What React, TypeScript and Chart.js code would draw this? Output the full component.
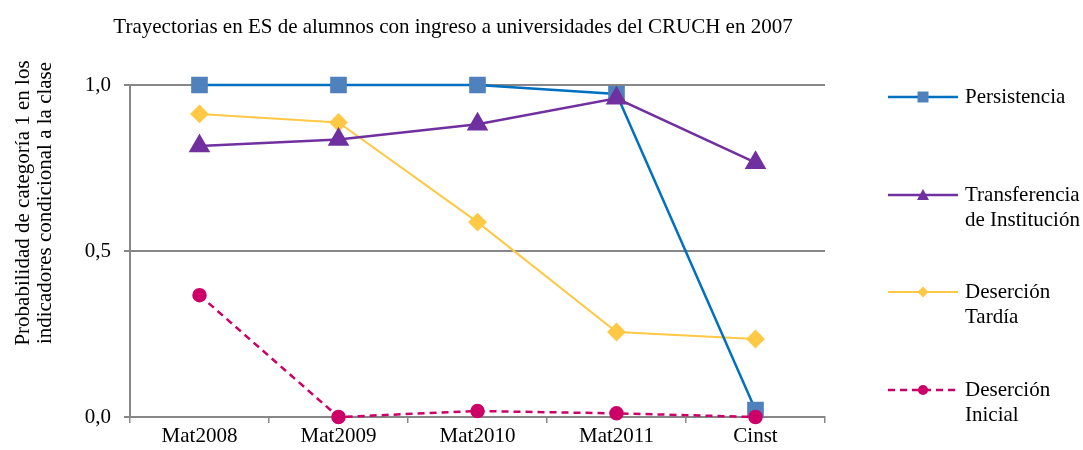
import React, { useEffect, useRef } from "react";
import { Chart, registerables } from "chart.js";

Chart.register(...registerables);

const chartTitle = "Trayectorias en ES de alumnos con ingreso a universidades del CRUCH en 2007";
const yAxisTitle = ["Probabilidad de categoría 1 en los", "indicadores condicional a la clase"];
const categories = ["Mat2008", "Mat2009", "Mat2010", "Mat2011", "Cinst"];
const yTicks = [0, 0.5, 1.0];

const persistencia = [1.0, 1.0, 1.0, 0.973, 0.021];
const transferencia = [0.816, 0.836, 0.882, 0.96, 0.766];
const desercionTardia = [0.913, 0.887, 0.587, 0.256, 0.235];
const desercionInicial = [0.367, 0.0, 0.018, 0.011, 0.0];

const legendPersistencia = ["Persistencia"];
const legendTransferencia = ["Transferencia", "de Institución"];
const legendTardia = ["Deserción", "Tardía"];
const legendInicial = ["Deserción", "Inicial"];

const FONT = "'Liberation Serif', 'Times New Roman', serif";

const overlayPlugin = {
  id: "overlay",
  afterDraw(chart: any) {
    const ctx = chart.ctx;
    ctx.save();
    // title
    ctx.fillStyle = "#000";
    ctx.font = `21px ${FONT}`;
    ctx.textAlign = "center";
    ctx.textBaseline = "middle";
    ctx.fillText(chartTitle, 453, 27);

    // y axis title
    ctx.save();
    ctx.translate(0, 203);
    ctx.rotate(-Math.PI / 2);
    ctx.font = `21px ${FONT}`;
    ctx.textAlign = "center";
    ctx.textBaseline = "middle";
    ctx.fillText(yAxisTitle[0], 0, 23);
    ctx.fillText(yAxisTitle[1], 0, 45);
    ctx.restore();

    // legend
    const items = [
      { ds: 0, text: legendPersistencia, y: 97 },
      { ds: 1, text: legendTransferencia, y: 195 },
      { ds: 2, text: legendTardia, y: 292 },
      { ds: 3, text: legendInicial, y: 390 },
    ];
    items.forEach((it) => {
      const ds = chart.data.datasets[it.ds];
      ctx.save();
      ctx.strokeStyle = ds.borderColor;
      ctx.lineWidth = ds.borderWidth;
      ctx.setLineDash(ds.borderDash || []);
      ctx.beginPath();
      ctx.moveTo(888, it.y);
      ctx.lineTo(958, it.y);
      ctx.stroke();
      ctx.setLineDash([]);
      ctx.fillStyle = ds.pointBackgroundColor;
      const cx = 923;
      const cy = it.y;
      ctx.beginPath();
      if (ds.pointStyle === "rect") {
        ctx.rect(cx - 5.5, cy - 5.5, 11, 11);
      } else if (ds.pointStyle === "triangle") {
        ctx.moveTo(cx, cy - 6);
        ctx.lineTo(cx + 6, cy + 5);
        ctx.lineTo(cx - 6, cy + 5);
        ctx.closePath();
      } else if (ds.pointStyle === "rectRot") {
        ctx.moveTo(cx, cy - 5.5);
        ctx.lineTo(cx + 5.5, cy);
        ctx.lineTo(cx, cy + 5.5);
        ctx.lineTo(cx - 5.5, cy);
        ctx.closePath();
      } else {
        ctx.arc(cx, cy, 5, 0, Math.PI * 2);
      }
      ctx.fill();
      ctx.restore();
      ctx.fillStyle = "#000";
      ctx.font = `21px ${FONT}`;
      ctx.textAlign = "left";
      ctx.textBaseline = "middle";
      it.text.forEach((t, i) => ctx.fillText(t, 965, it.y + i * 25));
    });
    ctx.restore();
  },
};

export default function App() {
  const ref = useRef<HTMLCanvasElement | null>(null);
  useEffect(() => {
    if (!ref.current) return;
    const chart = new Chart(ref.current, {
      type: "line",
      data: {
        labels: categories,
        datasets: [
          {
            label: "Persistencia",
            data: persistencia,
            borderColor: "#0070C0",
            backgroundColor: "#4F81BD",
            pointBackgroundColor: "#4F81BD",
            pointBorderColor: "#4F81BD",
            pointStyle: "rect",
            pointRadius: 10,
            borderWidth: 2.5,
            clip: false,
            order: 3,
          },
          {
            label: "Transferencia de Institución",
            data: transferencia,
            borderColor: "#7030A0",
            backgroundColor: "#7030A0",
            pointBackgroundColor: "#7030A0",
            pointBorderColor: "#7030A0",
            pointStyle: "triangle",
            pointRadius: 10,
            borderWidth: 2.5,
            clip: false,
            order: 2,
          },
          {
            label: "Deserción Tardía",
            data: desercionTardia,
            borderColor: "#FFC845",
            backgroundColor: "#FFC845",
            pointBackgroundColor: "#FFC845",
            pointBorderColor: "#FFC845",
            pointStyle: "rectRot",
            pointRadius: 8,
            borderWidth: 2,
            clip: false,
            order: 4,
          },
          {
            label: "Deserción Inicial",
            data: desercionInicial,
            borderColor: "#CC0066",
            backgroundColor: "#CC0066",
            pointBackgroundColor: "#CC0066",
            pointBorderColor: "#CC0066",
            pointStyle: "circle",
            pointRadius: 6,
            borderWidth: 2.5,
            borderDash: [7, 5],
            clip: false,
            order: 1,
          },
        ],
      },
      options: {
        responsive: false,
        animation: false,
        layout: { padding: { left: 0, right: 258, top: 85, bottom: 0 } },
        plugins: {
          legend: { display: false },
          title: { display: false },
          tooltip: { enabled: false },
        },
        scales: {
          x: {
            offset: true,
            afterFit: (s: any) => {
              s.height = 33;
            },
            grid: {
              offset: true,
              drawOnChartArea: false,
              drawTicks: true,
              tickLength: 6,
              color: "#878787",
              lineWidth: 1.5,
            },
            border: { color: "#878787", width: 2 },
            ticks: {
              color: "#000",
              font: { family: FONT, size: 21 },
              padding: 1,
              maxRotation: 0,
            },
          },
          y: {
            min: 0,
            max: 1,
            afterFit: (s: any) => {
              s.width = 130;
            },
            afterBuildTicks: (s: any) => {
              s.ticks = yTicks.map((v) => ({ value: v }));
            },
            grid: {
              color: "#878787",
              lineWidth: 2,
              tickLength: 6,
            },
            border: { color: "#878787", width: 2 },
            ticks: {
              color: "#000",
              font: { family: FONT, size: 21 },
              padding: 13,
              callback: (v: any) => Number(v).toFixed(1).replace(".", ","),
            },
          },
        },
      },
      plugins: [overlayPlugin],
    });
    return () => chart.destroy();
  }, []);
  return (
    <div style={{ position: "absolute", left: 0, top: 0, width: 1083, height: 450 }}>
      <canvas ref={ref} width={1083} height={450} style={{ display: "block" }} />
    </div>
  );
}
